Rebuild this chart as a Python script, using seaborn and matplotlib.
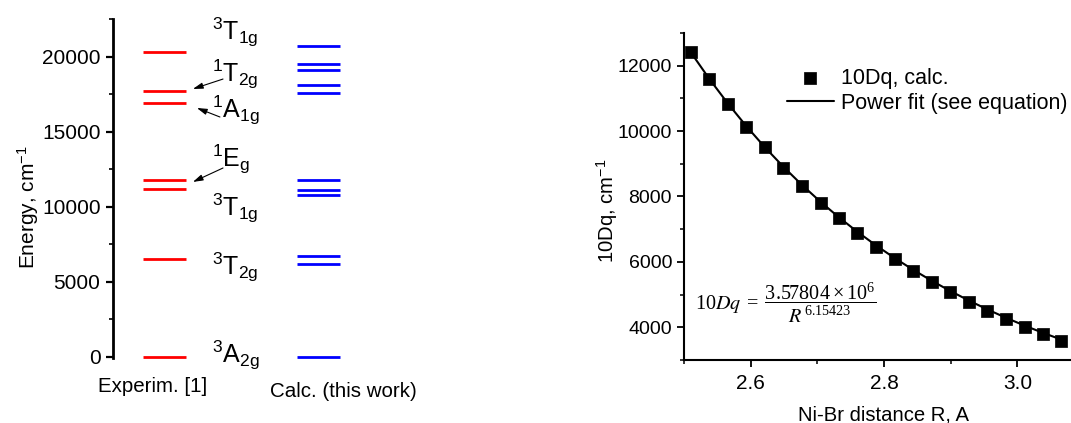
import matplotlib
matplotlib.use("Agg")
import matplotlib.pyplot as plt
import seaborn as sns
from matplotlib.font_manager import FontProperties
from matplotlib.ticker import MultipleLocator

sns.set_theme(style="ticks")
plt.rcParams["font.family"] = ["Liberation Sans", "DejaVu Sans"]
plt.rcParams["mathtext.default"] = "regular"
for key in ["text.color", "axes.labelcolor", "xtick.color", "ytick.color", "axes.edgecolor"]:
    plt.rcParams[key] = "black"

# Energy levels of Ni2+ (cm^-1)
exp_levels = [0, 6540, 11210, 11790, 16950, 17710, 20330]
calc_levels = [0, 6230, 6700, 10790, 11120, 11790, 17620, 18110, 19110, 19530, 20760]
columns = ["Experim. [1]", "Calc. (this work)"]

state_labels = [r"$^{3}$T$_{1g}$", r"$^{1}$T$_{2g}$", r"$^{1}$A$_{1g}$", r"$^{1}$E$_{g}$",
                r"$^{3}$T$_{1g}$", r"$^{3}$T$_{2g}$", r"$^{3}$A$_{2g}$"]
state_label_y = [21150, 18350, 15930, 12690, 9400, 5470, -400]

# 10Dq versus Ni-Br distance
r_values = [2.510, 2.538, 2.566, 2.593, 2.621, 2.649, 2.677, 2.705, 2.732, 2.760,
            2.788, 2.816, 2.844, 2.872, 2.899, 2.927, 2.955, 2.983, 3.011, 3.038, 3.066]
dq_values = [12418, 11602, 10827, 10122, 9500, 8867, 8327, 7806, 7337, 6878,
             6459, 6082, 5735, 5378, 5071, 4776, 4500, 4255, 4010, 3796, 3592]
FIT_A = 3.57804e6
FIT_P = 6.15423

W, H = 1071, 423
fig = plt.figure(figsize=(W / 100, H / 100), dpi=100)


def px_rect(x0, y0, x1, y1):
    return [x0 / W, 1 - y1 / H, (x1 - x0) / W, (y1 - y0) / H]


# ---------- left: level diagram ----------
ax1 = fig.add_axes(px_rect(113, 19, 420, 358))
half = 0.139
ax1.hlines(exp_levels, 0 - half, 0 + half, color="#ff0000", lw=2.0, clip_on=False)
ax1.hlines(calc_levels, 1 - half, 1 + half, color="#0000ff", lw=2.0, clip_on=False)
ax1.set_xlim(-0.333, 1.654)
ax1.set_ylim(-67, 22533)
for s in ["top", "right", "bottom"]:
    ax1.spines[s].set_visible(False)
ax1.spines["left"].set_linewidth(2.0)
ax1.set_xticks([])
ax1.yaxis.set_major_locator(MultipleLocator(5000))
ax1.yaxis.set_minor_locator(MultipleLocator(2500))
ax1.tick_params(axis="y", which="major", length=5, width=1.6, labelsize=15, pad=4, direction="out")
ax1.tick_params(axis="y", which="minor", length=3, width=1.2, direction="out")
ax1.set_ylabel(r"Energy, cm$^{-1}$", fontsize=15)
ax1.yaxis.set_label_coords(-0.277, 0.445)
ax1.yaxis.label.set_va("center")

for lab, yv in zip(state_labels, state_label_y):
    ax1.text(0.31, yv, lab, fontsize=18, ha="left", va="baseline")

arrow_kw = dict(arrowstyle="-|>,head_length=0.5,head_width=0.15", color="black", lw=0.8,
                shrinkA=0, shrinkB=0)
ax1.annotate("", xy=(0.184, 17870), xytext=(0.379, 18530), arrowprops=arrow_kw)
ax1.annotate("", xy=(0.210, 16600), xytext=(0.359, 16000), arrowprops=arrow_kw)
ax1.annotate("", xy=(0.184, 11670), xytext=(0.379, 12600), arrowprops=arrow_kw)

ax1.text(-0.074, -2000, columns[0], fontsize=14.75, ha="center", va="center", clip_on=False)
ax1.text(1.155, -2330, columns[1], fontsize=14.75, ha="center", va="center", clip_on=False)

# ---------- right: 10Dq vs R ----------
ax2 = fig.add_axes(px_rect(684, 33, 1084, 360))
fit_values = [FIT_A / r ** FIT_P for r in r_values]
sns.lineplot(x=r_values, y=fit_values, color="black", lw=1.5, ax=ax2,
             label="Power fit (see equation)")
sns.scatterplot(x=r_values, y=dq_values, marker="s", s=80, color="black",
                edgecolor="black", linewidth=0.5, ax=ax2, label="10Dq, calc.", zorder=3)
ax2.set_xlim(2.5, 3.1)
ax2.set_ylim(3000, 13000)
for s in ["top", "right"]:
    ax2.spines[s].set_visible(False)
for s in ["left", "bottom"]:
    ax2.spines[s].set_linewidth(1.5)
ax2.xaxis.set_minor_locator(MultipleLocator(0.1))
ax2.set_xticks([2.6, 2.8, 3.0])
ax2.set_xticklabels(["2.6", "2.8", "3.0"])
ax2.set_yticks([4000, 6000, 8000, 10000, 12000])
ax2.yaxis.set_minor_locator(MultipleLocator(1000))
ax2.tick_params(which="major", length=5, width=1.3, direction="out")
ax2.tick_params(which="minor", length=3, width=1.1, direction="out")
ax2.tick_params(axis="y", which="major", labelsize=14, pad=3.6)
ax2.tick_params(axis="x", which="major", labelsize=15, pad=5)
ax2.set_xlabel("Ni-Br distance R, A", fontsize=14.6)
ax2.xaxis.set_label_coords(0.4975, -0.168)
ax2.xaxis.label.set_va("center")
ax2.set_ylabel(r"10Dq, cm$^{-1}$", fontsize=14.6)
ax2.yaxis.set_label_coords(-0.1925, 0.456)
ax2.yaxis.label.set_va("center")

handles, labels = ax2.get_legend_handles_labels()
order = [labels.index("10Dq, calc."), labels.index("Power fit (see equation)")]
ax2.legend([handles[i] for i in order], [labels[i] for i in order],
           loc="upper left", bbox_to_anchor=(786.7 / W, 1 - 68 / H),
           bbox_transform=fig.transFigure, frameon=False, fontsize=15.5,
           handlelength=2.21, handletextpad=0.33, labelspacing=0.17,
           borderpad=0, borderaxespad=0, markerscale=1.0)

eq_font = FontProperties(family="Liberation Serif", size=14.5, math_fontfamily="stix")
ax2.text(2.5168, 4744,
         r"$10\mathit{Dq}\;=\;\dfrac{3.57804\times10^{6}}{\mathit{R}^{\,6.15423}}$",
         fontproperties=eq_font, ha="left", va="center")

fig.savefig("out.png", dpi=100)
